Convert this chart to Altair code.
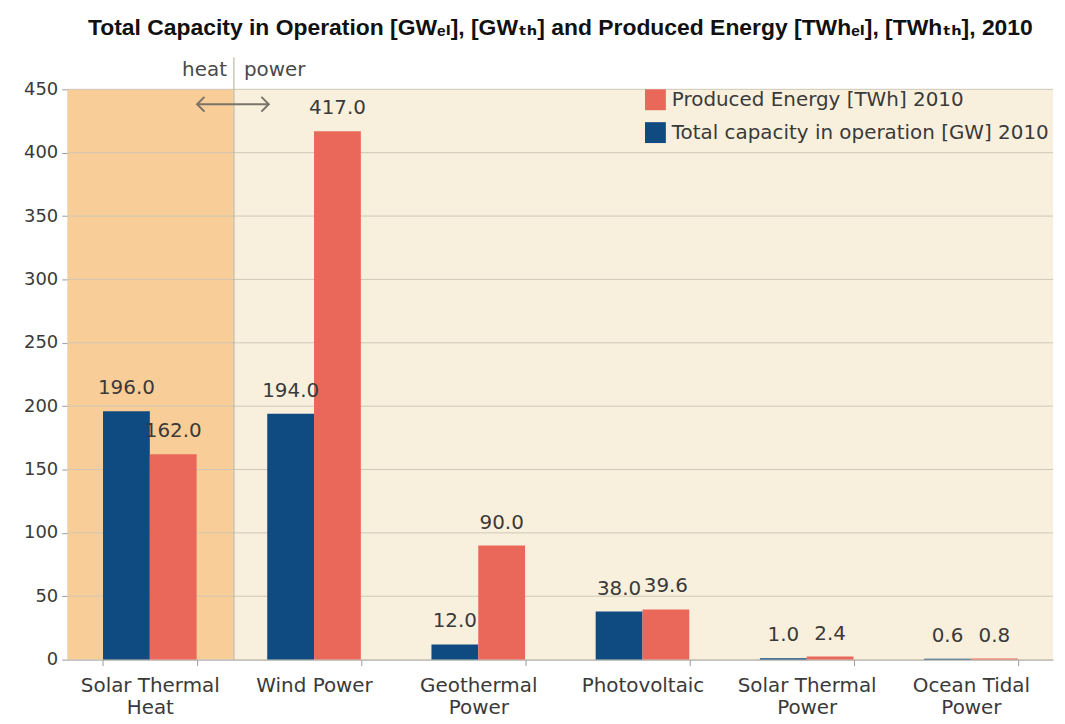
import altair as alt
import pandas as pd

categories = ["Solar Thermal\nHeat", "Wind Power", "Geothermal\nPower", "Photovoltaic",
              "Solar Thermal\nPower", "Ocean Tidal\nPower"]
capacity_gw = [196.0, 194.0, 12.0, 38.0, 1.0, 0.6]
energy_twh = [162.0, 417.0, 90.0, 39.6, 2.4, 0.8]
series_bar_order = ["Total capacity in operation [GW] 2010", "Produced Energy [TWh] 2010"]
legend_order = ["Produced Energy [TWh] 2010", "Total capacity in operation [GW] 2010"]
y_ticks = [0, 50, 100, 150, 200, 250, 300, 350, 400, 450]
title_text = "Total Capacity in Operation [GWₑₗ], [GWₜₕ] and Produced Energy [TWhₑₗ], [TWhₜₕ], 2010"

rows = []
for c, v in zip(categories, capacity_gw):
    rows.append({"cat": c, "series": series_bar_order[0], "value": v})
for c, v in zip(categories, energy_twh):
    rows.append({"cat": c, "series": series_bar_order[1], "value": v})
df = pd.DataFrame(rows)

W, H = 990, 573
NAVY = "#0F4A80"
SALMON = "#E9685A"
BEIGE = "#F8F0DD"
ORANGE = "#F9CD97"
TXT = "#3A3A3A"
FONT = "DejaVu Sans"

x_enc = alt.X("cat:N", sort=categories,
              scale=alt.Scale(paddingInner=0.43, paddingOuter=0.215),
              axis=alt.Axis(title=None, labelAngle=0, labelExpr="split(datum.label, '\\n')",
                            labelFontSize=20, labelColor=TXT, labelFont=FONT,
                            tickBand="extent", tickSize=6, domainColor="#9A9A9A",
                            tickColor="#9A9A9A", labelPadding=10, labelLineHeight=22))
y_scale = alt.Scale(domain=[0, 450], nice=False)
y_axis = alt.Axis(title=None, values=y_ticks, grid=False, labelFontSize=18,
                  labelColor=TXT, labelFont=FONT, tickSize=6, domainColor="#9A9A9A",
                  tickColor="#9A9A9A", labelPadding=4)
y_enc = alt.Y("value:Q", scale=y_scale, axis=y_axis)

one = pd.DataFrame({"a": [0]})

bg = alt.Chart(one).mark_rect(color=BEIGE).encode(
    x=alt.value(0), x2=alt.value(W), y=alt.value(0), y2=alt.value(H))

band = alt.Chart(one).mark_rect(color=ORANGE).encode(
    x=alt.value(0), x2=alt.value(166), y=alt.value(0), y2=alt.value(H))

grid = alt.Chart(pd.DataFrame({"v": y_ticks})).mark_rule(color="#CFC8B6", strokeWidth=1).encode(
    y=alt.Y("v:Q", scale=y_scale, axis=y_axis))

divider = alt.Chart(one).mark_rule(color="#B4A890", strokeWidth=1).encode(
    x=alt.value(167), y=alt.value(-32), y2=alt.value(H))

heat_txt = alt.Chart(one).mark_text(align="right", baseline="middle", fontSize=20, font=FONT,
                                    color="#4A4A4A").encode(
    x=alt.value(160), y=alt.value(-19), text=alt.value("heat"))
power_txt = alt.Chart(one).mark_text(align="left", baseline="middle", fontSize=20, font=FONT,
                                     color="#4A4A4A").encode(
    x=alt.value(177), y=alt.value(-19), text=alt.value("power"))

arrow_shaft = alt.Chart(one).mark_rule(color="#7A7468", strokeWidth=2).encode(
    x=alt.value(130), x2=alt.value(202), y=alt.value(15))
arrow_l = alt.Chart(one).mark_point(shape="M 1 -1 L 0 0 L 1 1", filled=False, size=220,
                                    color="#7A7468", strokeWidth=2, opacity=1).encode(
    x=alt.value(130), y=alt.value(15))
arrow_r = alt.Chart(one).mark_point(shape="M -1 -1 L 0 0 L -1 1", filled=False, size=220,
                                    color="#7A7468", strokeWidth=2, opacity=1).encode(
    x=alt.value(202), y=alt.value(15))

bars = alt.Chart(df).mark_bar().encode(
    x=x_enc, y=y_enc,
    xOffset=alt.XOffset("series:N", sort=series_bar_order, scale=alt.Scale(paddingInner=0, paddingOuter=0)),
    color=alt.Color("series:N", scale=alt.Scale(domain=legend_order, range=[SALMON, NAVY]),
                    legend=alt.Legend(orient="none", legendX=580, legendY=0, title=None,
                                      symbolType="square", symbolSize=440, symbolStrokeWidth=0,
                                      symbolOpacity=1, labelFontSize=20, labelFont=FONT,
                                      labelColor=TXT, labelLimit=600, rowPadding=12,
                                      labelOffset=6)))

labels = alt.Chart(df).mark_text(baseline="bottom", dy=-13, fontSize=20, font=FONT, color=TXT).encode(
    x=alt.X("cat:N", sort=categories),
    xOffset=alt.XOffset("series:N", sort=series_bar_order),
    y=alt.Y("value:Q", scale=y_scale),
    text=alt.Text("value:Q", format=".1f"))

chart = alt.layer(bg, band, grid, divider, heat_txt, power_txt, arrow_shaft, arrow_l, arrow_r,
                  bars, labels).properties(
    width=W, height=H,
    autosize=alt.AutoSizeParams(type="none"),
    padding={"left": 60, "top": 80, "right": 4, "bottom": 62},
    title=alt.TitleParams(text=title_text, fontSize=23, fontWeight="bold",
                          font="Liberation Sans Narrow, Liberation Sans, DejaVu Sans",
                          color="#111111", anchor="middle", frame="group", offset=17),
).configure_view(fill=BEIGE, strokeWidth=0)

chart.save("out.html", embed_options={"renderer": "svg", "actions": False})
